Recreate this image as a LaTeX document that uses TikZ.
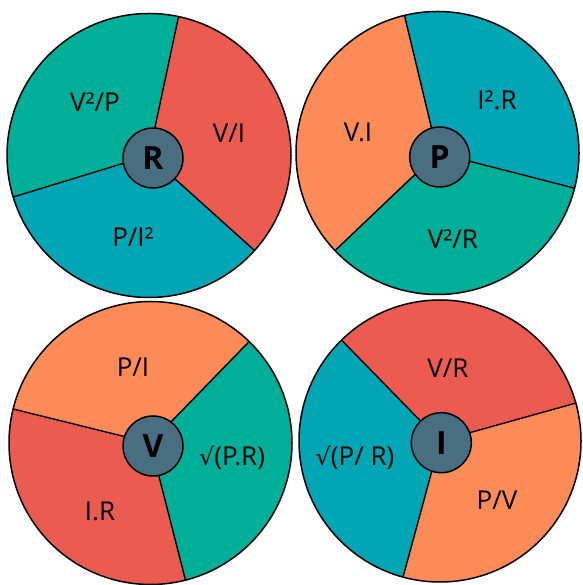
\documentclass[tikz,border=0pt]{standalone}
\usepackage{fontspec}
\setmainfont{Open Sans}
\newfontfamily\symfont{DejaVu Sans}
\definecolor{cgreen}{RGB}{0,175,152}
\definecolor{ccyan}{RGB}{0,166,180}
\definecolor{cred}{RGB}{235,91,80}
\definecolor{corange}{RGB}{253,139,88}
\definecolor{chub}{RGB}{73,110,128}
\newcommand{\sqrtsym}{{\symfont\fontsize{24}{24}\selectfont √}}
\begin{document}
\begin{tikzpicture}[x=1pt,y=1pt,
  rim/.style={draw=black,line width=1.5pt},
  spoke/.style={draw=black,line width=1.4pt},
  hubnode/.style={circle,fill=chub,draw=black,line width=1.5pt,minimum size=60pt,inner sep=0pt,font=\fontsize{32}{32}\selectfont\bfseries},
  lab/.style={font=\fontsize{26}{26}\selectfont,inner sep=0pt}]
\useasboundingbox (0,0) rectangle (582,585);
% ---------- R wheel
\coordinate (Rc) at (149,429.5);
\fill[cgreen] (Rc) -- ++(78:142) arc[start angle=78,end angle=197,radius=142] -- cycle;
\fill[ccyan] (Rc) -- ++(197:142) arc[start angle=197,end angle=318,radius=142] -- cycle;
\fill[cred] (Rc) -- ++(318:142) arc[start angle=318,end angle=438,radius=142] -- cycle;
\draw[spoke] (Rc) -- ++(78:142);
\draw[spoke] (Rc) -- ++(197:142);
\draw[spoke] (Rc) -- ++(318:142);
\draw[rim] (Rc) circle[radius=142];
\node[hubnode] (Rh) at (153,427) {R};
\node[lab] (R1) at (95,483) {V²/P};
\node[lab] (R2) at (229,452) {V/I};
\node[lab] (R3) at (133,348) {P/I²};
% ---------- P wheel
\coordinate (Pc) at (437.5,432);
\fill[corange] (Pc) -- ++(103.5:141.5) arc[start angle=103.5,end angle=223.6,radius=141.5] -- cycle;
\fill[cgreen] (Pc) -- ++(223.6:141.5) arc[start angle=223.6,end angle=345.6,radius=141.5] -- cycle;
\fill[ccyan] (Pc) -- ++(345.6:141.5) arc[start angle=345.6,end angle=463.5,radius=141.5] -- cycle;
\draw[spoke] (Pc) -- ++(103.5:141.5);
\draw[spoke] (Pc) -- ++(223.6:141.5);
\draw[spoke] (Pc) -- ++(345.6:141.5);
\draw[rim] (Pc) circle[radius=141.5];
\node[hubnode] (Ph) at (439.7,428) {P};
\node[lab] (P1) at (358,453) {V.I};
\node[lab] (P2) at (497,485) {I².R};
\node[lab] (P3) at (453,346) {V²/R};
% ---------- V wheel
\coordinate (Vc) at (150.5,142);
\fill[corange] (Vc) -- ++(45.8:141.5) arc[start angle=45.8,end angle=166.1,radius=141.5] -- cycle;
\fill[cred] (Vc) -- ++(166.1:141.5) arc[start angle=166.1,end angle=284.3,radius=141.5] -- cycle;
\fill[cgreen] (Vc) -- ++(284.3:141.5) arc[start angle=284.3,end angle=405.8,radius=141.5] -- cycle;
\draw[spoke] (Vc) -- ++(45.8:141.5);
\draw[spoke] (Vc) -- ++(166.1:141.5);
\draw[spoke] (Vc) -- ++(284.3:141.5);
\draw[rim] (Vc) circle[radius=141.5];
\node[hubnode] (Vh) at (153,139) {V};
\node[lab] (V1) at (133,218) {P/I};
\node[lab] (V2) at (100,74) {I.R};
\node[lab] (V3) at (232,127) {\sqrtsym(P.R)};
% ---------- I wheel
\coordinate (Ic) at (440,144);
\fill[cred] (Ic) -- ++(15.6:141) arc[start angle=15.6,end angle=134.3,radius=141] -- cycle;
\fill[ccyan] (Ic) -- ++(134.3:141) arc[start angle=134.3,end angle=254.8,radius=141] -- cycle;
\fill[corange] (Ic) -- ++(254.8:141) arc[start angle=254.8,end angle=375.6,radius=141] -- cycle;
\draw[spoke] (Ic) -- ++(15.6:141);
\draw[spoke] (Ic) -- ++(134.3:141);
\draw[spoke] (Ic) -- ++(254.8:141);
\draw[rim] (Ic) circle[radius=141];
\node[hubnode] (Ih) at (441.3,142.3) {I};
\node[lab] (I1) at (448,217) {V/R};
\node[lab] (I2) at (355,127) {\sqrtsym(P/ R)};
\node[lab] (I3) at (497,85) {P/V};
\end{tikzpicture}
\end{document}
